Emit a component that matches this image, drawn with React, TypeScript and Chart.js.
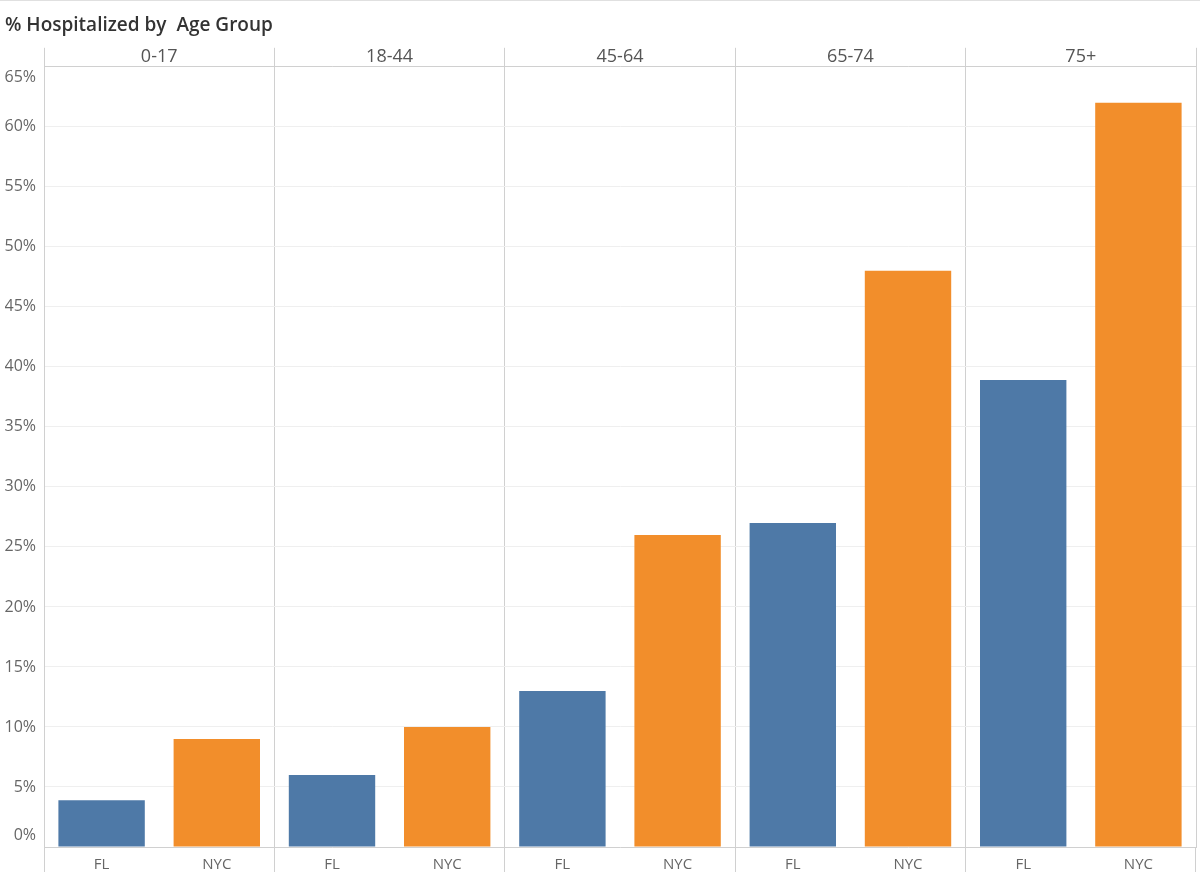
import React, { useEffect, useRef } from "react";
import { Chart, registerables } from "chart.js";

Chart.register(...registerables);

const groups = ["0-17", "18-44", "45-64", "65-74", "75+"];
const places = ["FL", "NYC"];
const flValues = [3.9, 6, 13, 27, 38.9];
const nycValues = [9, 10, 26, 48, 62];
const yTicks = [0, 5, 10, 15, 20, 25, 30, 35, 40, 45, 50, 55, 60, 65];
const placeColors = ["#4e79a7", "#f28e2b"];

const FONT = "'Open Sans', 'Lato', sans-serif";
const Y_FONT_SIZE = 16;

const edgeLabels = {
  id: "edgeLabels",
  afterDraw(chart: any) {
    const s = chart.scales.y;
    const ctx = chart.ctx;
    const area = chart.chartArea;
    ctx.save();
    ctx.font = `${Y_FONT_SIZE}px ${FONT}`;
    ctx.fillStyle = "#666666";
    ctx.textAlign = "right";
    ctx.textBaseline = "middle";
    const x = s.right - 8;
    const top = yTicks[yTicks.length - 1];
    const bottom = yTicks[0];
    const yt = Math.max(s.getPixelForValue(top), area.top + Y_FONT_SIZE * 0.65);
    const yb = Math.min(s.getPixelForValue(bottom), area.bottom - Y_FONT_SIZE * 0.75);
    ctx.fillText(`${top}%`, x, yt);
    ctx.fillText(`${bottom}%`, x, yb);
    ctx.restore();
  },
};

export default function App() {
  const ref = useRef<HTMLCanvasElement | null>(null);

  useEffect(() => {
    if (!ref.current) return;
    const labels: string[] = [];
    const values: number[] = [];
    const colors: string[] = [];
    groups.forEach((g, i) => {
      labels.push(places[0], places[1]);
      values.push(flValues[i], nycValues[i]);
      colors.push(placeColors[0], placeColors[1]);
    });
    const sepColor = (ctx: any) =>
      ctx.index === undefined || ctx.index % 2 === 0 ? "#d0d0d0" : "rgba(0,0,0,0)";

    const chart = new Chart(ref.current, {
      type: "bar",
      data: {
        labels,
        datasets: [
          {
            data: values,
            backgroundColor: colors,
            barPercentage: 0.75,
            categoryPercentage: 1,
          },
        ],
      },
      plugins: [edgeLabels],
      options: {
        animation: false,
        responsive: false,
        maintainAspectRatio: false,
        layout: { padding: { left: 5, right: 4, top: 0, bottom: 0 } },
        plugins: {
          legend: { display: false },
          tooltip: { enabled: false },
          title: {
            display: true,
            text: "% Hospitalized by  Age Group",
            align: "start",
            color: "#333333",
            font: { family: FONT, size: 19, weight: "600" as any, lineHeight: 1.2 },
            padding: { top: 14, bottom: 0 },
          },
        },
        scales: {
          x: {
            type: "category",
            position: "bottom",
            grid: {
              offset: true,
              drawOnChartArea: false,
              drawTicks: true,
              tickLength: 25,
              tickColor: sepColor,
              color: sepColor,
            },
            border: { display: true, color: "#d0d0d0" },
            ticks: {
              color: "#666666",
              font: { family: FONT, size: 15 },
              padding: -16,
              autoSkip: false,
              maxRotation: 0,
            },
            afterFit: (s: any) => {
              s.height = 33;
            },
          },
          x2: {
            type: "category",
            position: "top",
            labels: groups,
            grid: {
              offset: true,
              drawOnChartArea: true,
              drawTicks: true,
              tickLength: 19,
              color: "#d0d0d0",
              tickColor: "#d0d0d0",
            },
            border: { display: true, color: "#d0d0d0" },
            ticks: {
              color: "#555555",
              font: { family: FONT, size: 18 },
              padding: -20,
              autoSkip: false,
              maxRotation: 0,
            },
            afterFit: (s: any) => {
              s.height = 30;
            },
          },
          y: {
            type: "linear",
            min: 0,
            max: 65,
            afterBuildTicks: (s: any) => {
              s.ticks = yTicks.map((v) => ({ value: v }));
            },
            grid: {
              color: "#efefef",
              drawTicks: false,
            },
            border: { display: true, color: "#d0d0d0" },
            ticks: {
              color: (ctx: any) =>
                ctx.index === 0 || ctx.index === yTicks.length - 1 ? "rgba(0,0,0,0)" : "#666666",
              font: { family: FONT, size: Y_FONT_SIZE },
              padding: 8,
              callback: (v: any) => `${v}%`,
            },
            afterFit: (s: any) => {
              s.width = 39;
            },
          },
        },
      },
    });
    return () => chart.destroy();
  }, []);

  return (
    <div style={{ position: "fixed", left: 0, top: 0, width: 1200, height: 880, background: "#fff" }}>
      <div style={{ position: "absolute", left: 0, top: 0, width: 1200, height: 1, background: "#e0e0e0" }} />
      <canvas ref={ref} width={1200} height={880} style={{ display: "block" }} />
    </div>
  );
}
